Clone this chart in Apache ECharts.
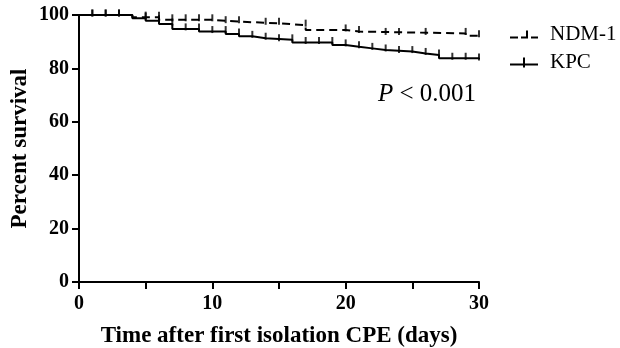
<!DOCTYPE html>
<html>
<head>
<meta charset="utf-8">
<script src="https://cdn.jsdelivr.net/npm/echarts@6/dist/echarts.min.js"></script>
<style>html,body{margin:0;padding:0;background:#fff}#c{width:620px;height:348px}</style>
</head>
<body>
<div id="c"></div>
<script>
// Kaplan-Meier step points: [day, percent survival]
const ndmDays   = [0, 4, 6, 10, 12, 15, 17, 20, 21, 29, 30];
const ndmValues = [100, 99.2, 98.2, 97.5, 96.9, 96.2, 94.4, 93.8, 93.1, 92.2, 92.2];
const kpcDays   = [0, 4, 5, 6, 7, 9, 11, 12, 13, 14, 16, 19, 20, 21, 22, 23, 25, 26, 27, 30];
const kpcValues = [100, 98.8, 97.8, 96.6, 94.8, 93.8, 92.9, 92.0, 91.3, 90.7, 89.7, 88.8, 88.1, 87.5, 86.9, 86.3, 85.6, 85.0, 83.8, 83.5];
// censored observation days
const ndmCensor = [1, 2, 3, 5, 6, 7, 8, 9, 10, 11, 12, 14, 15, 17, 20, 21, 23, 24, 26, 29, 30];
const kpcCensor = [1, 2, 3, 5, 6, 7, 8, 9, 10, 11, 12, 13, 14, 15, 16, 17, 18, 19, 20, 21, 22, 23, 24, 25, 26, 27, 28, 29, 30];
const seriesNames = ['NDM-1', 'KPC'];
const xTicks = [0, 10, 20, 30];
const yTicks = [0, 20, 40, 60, 80, 100];

function pairs(d, v) { return d.map((x, i) => [x, v[i]]); }
function censorPts(cd, d, v) {
  return cd.map(t => {
    let val = v[0];
    for (let i = 0; i < d.length; i++) { if (d[i] < t) val = v[i]; }
    if (t === d[d.length - 1]) val = v[v.length - 1];
    return [t, val];
  });
}

const font = 'Liberation Serif, Times New Roman, serif';
const chart = echarts.init(document.getElementById('c'), null, {renderer: 'canvas'});
chart.setOption({
  backgroundColor: '#fff',
  animation: false,
  grid: {left: 79, right: 141, top: 15, bottom: 66, containLabel: false, outerBoundsMode: 'none'},
  legend: {
    orient: 'vertical', left: 505, top: 19, itemWidth: 28, itemHeight: 10, itemGap: 7,
    textStyle: {fontFamily: font, fontSize: 21, color: '#000', padding: [0, 0, 0, 7]},
    data: [
      {name: seriesNames[0], icon: 'path://M0,8h8v2h-8z M11,8h7v2h-7z M16,2h2v8h-2z M21,8h7v2h-7z'},
      {name: seriesNames[1], icon: 'path://M0,8h28v2h-28z M13,2h2v10h-2z'}
    ]
  },
  xAxis: {
    type: 'value', min: 0, max: 30, interval: 5,
    name: 'Time after first isolation CPE (days)', nameLocation: 'middle', nameGap: 43,
    nameTextStyle: {fontFamily: font, fontSize: 23, fontWeight: 'bold', color: '#000'},
    axisLine: {show: true, lineStyle: {color: '#000', width: 2}},
    axisTick: {show: true, length: 7, lineStyle: {color: '#000', width: 2}},
    axisLabel: {fontFamily: font, fontSize: 20, fontWeight: 'bold', color: '#000', margin: 12,
      formatter: v => xTicks.includes(v) ? String(v) : ''},
    splitLine: {show: false}
  },
  yAxis: {
    type: 'value', min: 0, max: 100, interval: 20,
    name: 'Percent survival', nameLocation: 'middle', nameGap: 47, nameMoveOverlap: false,
    nameTextStyle: {fontFamily: font, fontSize: 23, fontWeight: 'bold', color: '#000'},
    axisLine: {show: true, lineStyle: {color: '#000', width: 2}},
    axisTick: {show: true, length: 7, lineStyle: {color: '#000', width: 2}},
    axisLabel: {fontFamily: font, fontSize: 20, fontWeight: 'bold', color: '#000', margin: 10,
      formatter: v => yTicks.includes(v) ? String(v) : ''},
    splitLine: {show: false}
  },
  series: [
    {name: seriesNames[0], type: 'line', step: 'end', symbol: 'none', data: pairs(ndmDays, ndmValues),
     lineStyle: {color: '#000', width: 2, type: [8, 5]}, itemStyle: {color: '#000'}},
    {name: seriesNames[1], type: 'line', step: 'end', symbol: 'none', data: pairs(kpcDays, kpcValues),
     lineStyle: {color: '#000', width: 2}, itemStyle: {color: '#000'}},
    {name: 'ndmCensor', type: 'scatter', symbol: 'rect', symbolSize: [2, 7], symbolOffset: [0, -2],
     data: censorPts(ndmCensor, ndmDays, ndmValues), itemStyle: {color: '#000'}},
    {name: 'kpcCensor', type: 'scatter', symbol: 'rect', symbolSize: [2, 7], symbolOffset: [0, -2],
     data: censorPts(kpcCensor, kpcDays, kpcValues), itemStyle: {color: '#000'}}
  ],
  graphic: [{
    type: 'text', left: 378, top: 82,
    style: {
      text: '{i|P} < 0.001', fontFamily: font, fontSize: 25, fill: '#000',
      rich: {i: {fontFamily: font, fontSize: 25, fontStyle: 'italic', fill: '#000'}}
    }
  }]
});
</script>
</body>
</html>
